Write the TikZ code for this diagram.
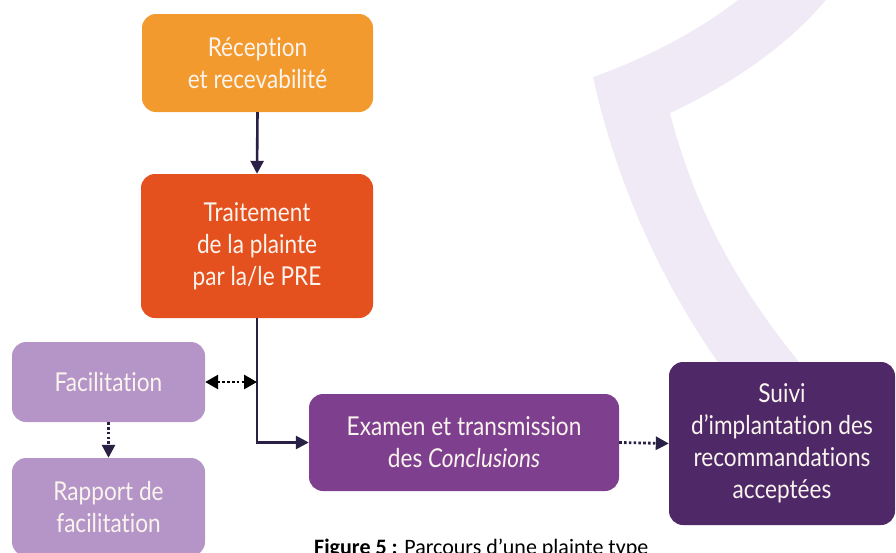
\documentclass[tikz,border=0pt]{standalone}
\usepackage{fontspec}
\setmainfont{Lato}[FakeStretch=0.87, Ligatures=NoCommon]
\newfontfamily\capfont{Carlito}
\usetikzlibrary{arrows.meta}
\definecolor{cOrange}{HTML}{F39A2E}
\definecolor{cRed}{HTML}{E5511E}
\definecolor{cLight}{HTML}{B595C8}
\definecolor{cMid}{HTML}{7F3F8F}
\definecolor{cDark}{HTML}{4F2868}
\definecolor{cBand}{HTML}{EFEAF5}
\definecolor{cLine}{HTML}{2A1F45}
\definecolor{cText}{HTML}{FAF4EE}
\tikzset{
  box/.style={rounded corners=14pt, inner sep=0pt, align=center, text=cText,
    font=\fontsize{26}{32}\selectfont},
  solidarrow/.style={draw=cLine, line width=2.6pt, -{Triangle[length=13pt,width=13pt]}},
  dotarrow/.style={draw=cLine, line width=2.8pt, dash pattern=on 2.6pt off 2.2pt,
    -{Triangle[length=13pt,width=13pt]}},
  dotdouble/.style={draw=black, line width=2.8pt, dash pattern=on 2.6pt off 2.2pt,
    {Triangle[length=13pt,width=14pt]}-{Triangle[length=13pt,width=14pt]}},
}
\begin{document}
\begin{tikzpicture}[x=1pt,y=-1pt]
\useasboundingbox (0,0) rectangle (896,552);
\clip (0,0) rectangle (896,552);
% background band
\fill[cBand] (750,-10) .. controls (710,25) and (650,57) .. (593,77)
  .. controls (620,200) and (680,330) .. (780,440) -- (870,440)
  .. controls (760,330) and (700,230) .. (670,113)
  .. controls (730,85) and (790,45) .. (830,-5) -- cycle;
% boxes
\node[box, fill=cOrange, minimum width=231pt, minimum height=98pt] (rec) at (257.5,63)
  {Réception\\et recevabilité};
\node[box, fill=cRed, minimum width=232pt, minimum height=144pt] (trait) at (257,246)
  {Traitement\\de la plainte\\par la/le PRE};
\node[box, fill=cLight, minimum width=193pt, minimum height=80pt] (fac) at (108.5,382)
  {Facilitation};
\node[box, fill=cLight, minimum width=193pt, minimum height=98pt] (rap) at (108.5,507)
  {Rapport de\\facilitation};
\node[box, fill=cMid, minimum width=310pt, minimum height=97pt] (exam) at (464,442.5)
  {Examen et transmission\\des \textit{Conclusions}};
\node[box, fill=cDark, minimum width=226pt, minimum height=163pt] (suivi) at (782,443.5)
  {Suivi\\d’implantation des\\recommandations\\acceptées};
% connectors
\coordinate (bend) at (trait.south |- exam.west);
\coordinate (junc) at (trait.south |- fac.east);
\draw[solidarrow] (rec.south) -- (trait.north);
\draw[solidarrow] (trait.south) -- (bend) -- (exam.west);
\draw[dotdouble] (fac.east) -- (junc);
\draw[dotarrow] (fac.south) -- (rap.north);
\draw[dotarrow] (exam.east) -- (suivi.west);
% caption
\node[anchor=base west, inner sep=0pt, font=\capfont\fontsize{22}{26}\selectfont, text=black] (cap) at (314,554)
  {\textbf{Figure 5 :} Parcours d’une plainte type};
\end{tikzpicture}
\end{document}
